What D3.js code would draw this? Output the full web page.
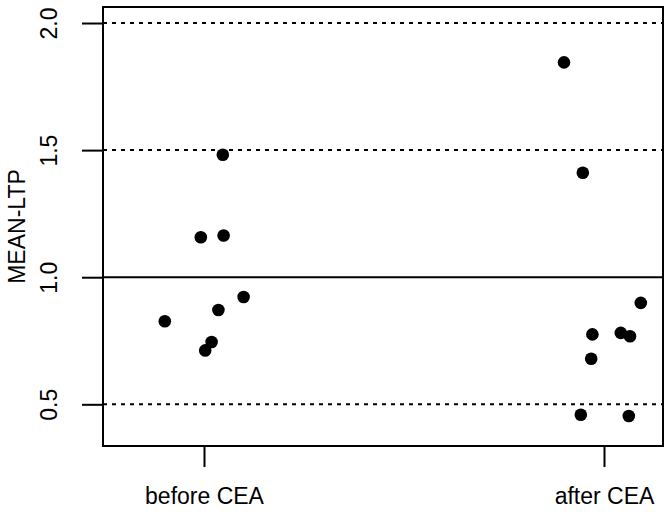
<!DOCTYPE html>
<html>
<head>
<meta charset="utf-8">
<script src="https://cdn.jsdelivr.net/npm/d3@7"></script>
<style>
  body { margin: 0; background: #fff; }
  svg { font-family: "Liberation Sans", Arial, sans-serif; }
</style>
</head>
<body>
<svg></svg>
<script>
// data
const groups = ['before CEA', 'after CEA'];
const beforeVals = [1.482, 1.157, 1.164, 0.922, 0.871, 0.827, 0.745, 0.712];
const beforeJitter = [0.047, -0.008, 0.049, 0.099, 0.036, -0.098, 0.019, 0.003];
const afterVals = [1.845, 1.411, 0.899, 0.775, 0.781, 0.768, 0.679, 0.459, 0.454];
const afterJitter = [-0.100, -0.053, 0.092, -0.029, 0.042, 0.065, -0.032, -0.058, 0.062];
const yTicks = [0.5, 1.0, 1.5, 2.0];
const dottedRefs = [0.5, 1.5, 2.0];
const solidRef = 1.0;

const width = 672, height = 512;
const fontSize = 23;
const svg = d3.select('svg')
    .attr('width', width)
    .attr('height', height);

const plotLeft = 103, plotRight = 663, plotTop = 7, plotBottom = 446;

const x = d3.scaleLinear().domain([0.7475, 2.1475]).range([plotLeft, plotRight]);
const y = d3.scaleLinear().domain([0.336, 2.063]).range([plotBottom, plotTop]);

// reference lines
svg.selectAll('.ref')
    .data(dottedRefs)
    .enter().append('line')
    .attr('x1', plotLeft).attr('x2', plotRight)
    .attr('y1', d => y(d)).attr('y2', d => y(d))
    .attr('stroke', 'black')
    .attr('stroke-width', 2)
    .attr('stroke-dasharray', '4,5');

svg.append('line')
    .attr('x1', plotLeft).attr('x2', plotRight)
    .attr('y1', y(solidRef)).attr('y2', y(solidRef))
    .attr('stroke', 'black')
    .attr('stroke-width', 2);

// points
const pts = [];
beforeVals.forEach((v, i) => pts.push({ g: 1 + beforeJitter[i], v: v }));
afterVals.forEach((v, i) => pts.push({ g: 2 + afterJitter[i], v: v }));

svg.selectAll('.pt')
    .data(pts)
    .enter().append('circle')
    .attr('cx', d => x(d.g))
    .attr('cy', d => y(d.v))
    .attr('r', 6.3)
    .attr('fill', 'black');

// axes
const yAxis = svg.append('g')
    .attr('transform', `translate(${plotLeft},0)`)
    .call(d3.axisLeft(y).tickValues(yTicks).tickSize(21).tickFormat(d3.format('.1f')));
yAxis.select('.domain').remove();
yAxis.selectAll('line').attr('stroke-width', 2);
yAxis.selectAll('text')
    .attr('x', 0).attr('y', 0).attr('dy', 0)
    .attr('transform', 'translate(-46,0) rotate(-90)')
    .attr('text-anchor', 'middle')
    .attr('font-size', fontSize)
    .attr('font-family', '"Liberation Sans", Arial, sans-serif')
    .attr('fill', 'black');

const xAxis = svg.append('g')
    .attr('transform', `translate(0,${plotBottom})`)
    .call(d3.axisBottom(x).tickValues([1, 2]).tickSize(21).tickFormat((d, i) => groups[i]));
xAxis.select('.domain').remove();
xAxis.selectAll('line').attr('stroke-width', 2);
xAxis.selectAll('text')
    .attr('y', 58).attr('dy', 0)
    .attr('font-size', fontSize)
    .attr('font-family', '"Liberation Sans", Arial, sans-serif')
    .attr('fill', 'black');

// frame
svg.append('rect')
    .attr('x', plotLeft).attr('y', plotTop)
    .attr('width', plotRight - plotLeft).attr('height', plotBottom - plotTop)
    .attr('fill', 'none')
    .attr('stroke', 'black')
    .attr('stroke-width', 2);

// y label
svg.append('text')
    .attr('transform', `translate(25,${(plotTop + plotBottom) / 2}) rotate(-90)`)
    .attr('text-anchor', 'middle')
    .attr('font-size', fontSize)
    .text('MEAN-LTP');
</script>
</body>
</html>
